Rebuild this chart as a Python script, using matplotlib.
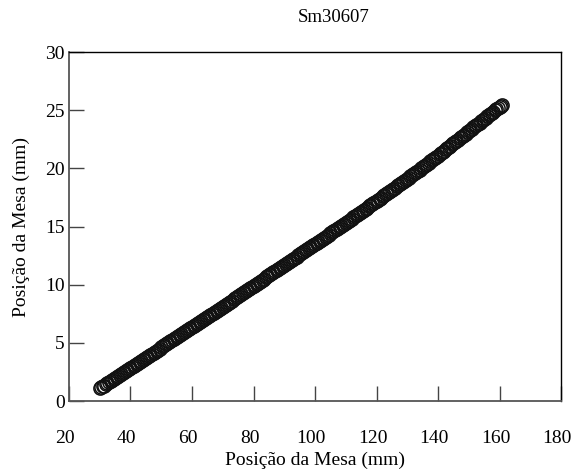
import matplotlib
matplotlib.use("Agg")
import matplotlib.pyplot as plt
from matplotlib.transforms import ScaledTranslation


TITLE = "Sm30607"
X_LABEL = "Posição da Mesa (mm)"
Y_LABEL = "Posição da Mesa (mm)"

# readings every 0.5 mm along the band
x_pos = [
    30.0, 30.5, 31.0, 31.5, 32.0, 32.5, 33.0, 33.5, 34.0, 34.5,
    35.0, 35.5, 36.0, 36.5, 37.0, 37.5, 38.0, 38.5, 39.0, 39.5,
    40.0, 40.5, 41.0, 41.5, 42.0, 42.5, 43.0, 43.5, 44.0, 44.5,
    45.0, 45.5, 46.0, 46.5, 47.0, 47.5, 48.0, 48.5, 49.0, 49.5,
    50.0, 50.5, 51.0, 51.5, 52.0, 52.5, 53.0, 53.5, 54.0, 54.5,
    55.0, 55.5, 56.0, 56.5, 57.0, 57.5, 58.0, 58.5, 59.0, 59.5,
    60.0, 60.5, 61.0, 61.5, 62.0, 62.5, 63.0, 63.5, 64.0, 64.5,
    65.0, 65.5, 66.0, 66.5, 67.0, 67.5, 68.0, 68.5, 69.0, 69.5,
    70.0, 70.5, 71.0, 71.5, 72.0, 72.5, 73.0, 73.5, 74.0, 74.5,
    75.0, 75.5, 76.0, 76.5, 77.0, 77.5, 78.0, 78.5, 79.0, 79.5,
    80.0, 80.5, 81.0, 81.5, 82.0, 82.5, 83.0, 83.5, 84.0, 84.5,
    85.0, 85.5, 86.0, 86.5, 87.0, 87.5, 88.0, 88.5, 89.0, 89.5,
    90.0, 90.5, 91.0, 91.5, 92.0, 92.5, 93.0, 93.5, 94.0, 94.5,
    95.0, 95.5, 96.0, 96.5, 97.0, 97.5, 98.0, 98.5, 99.0, 99.5,
    100.0, 100.5, 101.0, 101.5, 102.0, 102.5, 103.0, 103.5, 104.0, 104.5,
    105.0, 105.5, 106.0, 106.5, 107.0, 107.5, 108.0, 108.5, 109.0, 109.5,
    110.0, 110.5, 111.0, 111.5, 112.0, 112.5, 113.0, 113.5, 114.0, 114.5,
    115.0, 115.5, 116.0, 116.5, 117.0, 117.5, 118.0, 118.5, 119.0, 119.5,
    120.0, 120.5, 121.0, 121.5, 122.0, 122.5, 123.0, 123.5, 124.0, 124.5,
    125.0, 125.5, 126.0, 126.5, 127.0, 127.5, 128.0, 128.5, 129.0, 129.5,
    130.0, 130.5, 131.0, 131.5, 132.0, 132.5, 133.0, 133.5, 134.0, 134.5,
    135.0, 135.5, 136.0, 136.5, 137.0, 137.5, 138.0, 138.5, 139.0, 139.5,
    140.0, 140.5, 141.0, 141.5, 142.0, 142.5, 143.0, 143.5, 144.0, 144.5,
    145.0, 145.5, 146.0, 146.5, 147.0, 147.5, 148.0, 148.5, 149.0, 149.5,
    150.0, 150.5, 151.0, 151.5, 152.0, 152.5, 153.0, 153.5, 154.0, 154.5,
    155.0, 155.5, 156.0, 156.5, 157.0, 157.5, 158.0, 158.5, 159.0, 159.5,
    160.0, 160.5, 160.8,
]

y_pos = [
    1.08, 1.17, 1.25, 1.33, 1.42, 1.51, 1.60, 1.68, 1.77, 1.86,
    1.95, 2.03, 2.12, 2.20, 2.29, 2.37, 2.46, 2.54, 2.63, 2.71,
    2.80, 2.89, 2.98, 3.07, 3.16, 3.25, 3.34, 3.43, 3.52, 3.61,
    3.70, 3.79, 3.88, 3.97, 4.06, 4.15, 4.24, 4.33, 4.42, 4.51,
    4.60, 4.69, 4.78, 4.87, 4.96, 5.05, 5.14, 5.23, 5.32, 5.41,
    5.50, 5.59, 5.68, 5.77, 5.86, 5.95, 6.04, 6.13, 6.22, 6.31,
    6.40, 6.48, 6.57, 6.65, 6.74, 6.82, 6.91, 6.99, 7.08, 7.16,
    7.25, 7.33, 7.42, 7.50, 7.59, 7.67, 7.76, 7.84, 7.93, 8.01,
    8.10, 8.19, 8.28, 8.37, 8.46, 8.55, 8.64, 8.73, 8.82, 8.91,
    9.00, 9.09, 9.18, 9.27, 9.36, 9.45, 9.54, 9.63, 9.72, 9.81,
    9.90, 9.99, 10.08, 10.17, 10.26, 10.35, 10.44, 10.53, 10.62, 10.71,
    10.80, 10.89, 10.98, 11.07, 11.16, 11.25, 11.34, 11.43, 11.52, 11.61,
    11.70, 11.79, 11.88, 11.97, 12.06, 12.15, 12.24, 12.33, 12.42, 12.51,
    12.60, 12.69, 12.78, 12.87, 12.96, 13.05, 13.14, 13.23, 13.32, 13.41,
    13.50, 13.59, 13.68, 13.77, 13.86, 13.95, 14.04, 14.13, 14.22, 14.31,
    14.40, 14.49, 14.58, 14.67, 14.76, 14.85, 14.94, 15.03, 15.12, 15.21,
    15.30, 15.40, 15.49, 15.59, 15.68, 15.78, 15.87, 15.97, 16.06, 16.16,
    16.25, 16.35, 16.44, 16.54, 16.63, 16.73, 16.82, 16.92, 17.01, 17.11,
    17.20, 17.30, 17.39, 17.49, 17.58, 17.68, 17.77, 17.87, 17.96, 18.06,
    18.15, 18.25, 18.34, 18.44, 18.53, 18.63, 18.72, 18.82, 18.91, 19.01,
    19.10, 19.20, 19.30, 19.40, 19.50, 19.60, 19.70, 19.80, 19.90, 20.00,
    20.10, 20.20, 20.30, 20.40, 20.50, 20.60, 20.70, 20.80, 20.90, 21.00,
    21.10, 21.21, 21.31, 21.42, 21.52, 21.63, 21.73, 21.84, 21.94, 22.05,
    22.15, 22.26, 22.36, 22.47, 22.57, 22.68, 22.78, 22.89, 22.99, 23.10,
    23.20, 23.31, 23.41, 23.52, 23.62, 23.73, 23.83, 23.94, 24.04, 24.15,
    24.25, 24.36, 24.46, 24.57, 24.67, 24.78, 24.88, 24.99, 25.09, 25.20,
    25.30, 25.40, 25.45,
]

x_ticks = [20, 40, 60, 80, 100, 120, 140, 160, 180]
y_ticks = [0, 5, 10, 15, 20, 25, 30]

plt.rcParams["font.family"] = ["Liberation Serif", "DejaVu Serif"]

fig = plt.figure(figsize=(5.74, 4.72), dpi=100)
ax = fig.add_axes([0.1202, 0.1504, 0.8572, 0.7394])

ax.plot(x_pos, y_pos, linestyle="none", marker="o", markersize=9.5,
        markerfacecolor="none", markeredgecolor="#111111", markeredgewidth=1.1)

ax.set_xlim(20, 180)
ax.set_ylim(0, 30)
ax.set_xticks(x_ticks)
ax.set_yticks(y_ticks)
ax.tick_params(axis="x", direction="in", length=10.8, width=1.0, color="#444444",
               labelsize=14, pad=21)
ax.tick_params(axis="y", direction="in", length=10.8, width=1.0, color="#444444",
               labelsize=14, pad=3)

# the x tick labels sit a few pixels left of their ticks in the original
shift = ScaledTranslation(-4 / 100, 0, fig.dpi_scale_trans)
for lbl in ax.get_xticklabels():
    lbl.set_transform(lbl.get_transform() + shift)

for side in ["left", "bottom"]:
    ax.spines[side].set_color("#555555")
    ax.spines[side].set_linewidth(1.3)
for side in ["top", "right"]:
    ax.spines[side].set_color("black")
    ax.spines[side].set_linewidth(1.0)

ax.set_xlabel(X_LABEL, fontsize=14, labelpad=3)
ax.set_ylabel(Y_LABEL, fontsize=14, labelpad=11)
fig.text(334 / 574, 1 - 18 / 472, TITLE, fontsize=13.5, ha="center", va="center")

fig.savefig("out.png", dpi=100)
